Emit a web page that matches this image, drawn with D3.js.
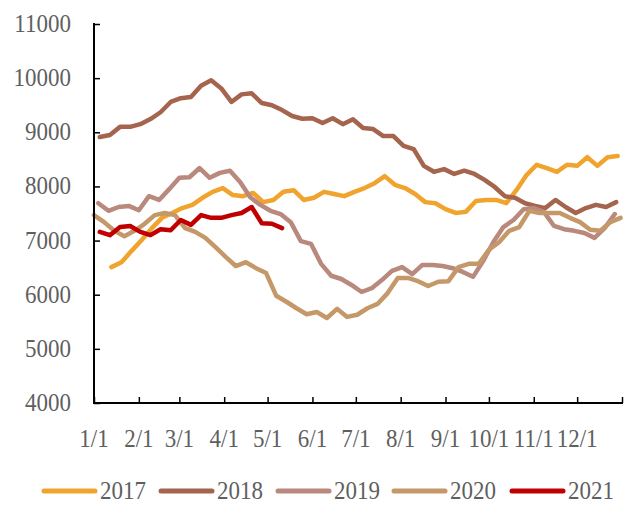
<!DOCTYPE html>
<html><head><meta charset="utf-8">
<script src="https://cdn.jsdelivr.net/npm/d3@7"></script>
<style>body{margin:0;background:#fff}svg{display:block}</style>
</head><body>
<svg id="c" width="625" height="505"></svg>
<script>
const years = ["2017","2018","2019","2020","2021"];
const colors = ["#F0A42E","#A5644D","#B8897C","#C59869","#C00000"];
const startDates = ["2021-01-13","2021-01-05","2021-01-04","2021-01-01","2021-01-05"];
const monthLabels = ["1/1","2/1","3/1","4/1","5/1","6/1","7/1","8/1","9/1","10/1","11/1","12/1"];
const yTicks = [4000,5000,6000,7000,8000,9000,10000,11000];

const s2017 = [6510,6600,6810,7010,7230,7420,7510,7600,7660,7790,7900,7970,7840,7820,7880,7710,7750,7900,7930,7750,7790,7900,7860,7820,7900,7970,8060,8190,8030,7970,7860,7710,7690,7580,7510,7530,7730,7750,7750,7690,7930,8210,8400,8340,8270,8400,8380,8540,8380,8540,8560];
const s2018 = [8913,8950,9100,9100,9150,9245,9370,9560,9630,9650,9860,9960,9810,9560,9700,9720,9540,9500,9410,9300,9250,9260,9170,9260,9150,9240,9080,9060,8930,8930,8750,8690,8380,8270,8320,8230,8290,8230,8120,7990,7820,7790,7690,7640,7600,7750,7620,7510,7600,7660,7620,7710];
const s2019 = [7690,7550,7620,7640,7560,7820,7750,7950,8160,8170,8340,8160,8250,8290,8080,7800,7660,7550,7490,7340,6990,6940,6570,6350,6290,6180,6050,6120,6270,6440,6510,6380,6550,6550,6530,6490,6420,6330,6620,6970,7250,7380,7580,7600,7530,7270,7210,7180,7140,7050,7230,7490];
const s2020 = [7470,7340,7180,7080,7180,7310,7470,7510,7470,7230,7160,7050,6880,6700,6530,6600,6490,6400,5980,5870,5750,5640,5680,5570,5740,5590,5630,5750,5830,6030,6310,6310,6250,6160,6240,6250,6510,6570,6570,6830,6970,7180,7250,7550,7510,7510,7510,7420,7340,7200,7180,7340,7420];
const s2021 = [7160,7100,7250,7270,7160,7100,7210,7190,7380,7290,7470,7420,7420,7470,7510,7620,7320,7310,7230];
const seriesValues = [s2017,s2018,s2019,s2020,s2021];

const svg = d3.select("#c");
const parse = d3.timeParse("%Y-%m-%d");
const x = d3.scaleTime().domain([parse("2021-01-01"), parse("2022-01-01")]).range([94, 622]);
const y = d3.scaleLinear().domain([4000, 11000]).range([403, 24]);
const font = "'Liberation Serif','Times New Roman',serif";
const txt = "#5f5f5f";
const fs = 25, sx = 0.92;

// lines
const line = d3.line().x(d => x(d.date)).y(d => y(d.v)).curve(d3.curveLinear);
seriesValues.forEach((vals, k) => {
  const st = parse(startDates[k]);
  const pts = vals.map((v, i) => ({date: d3.timeDay.offset(st, 7 * i), v}));
  svg.append("path").datum(pts).attr("d", line)
    .attr("fill", "none").attr("stroke", colors[k]).attr("stroke-width", 4.5)
    .attr("stroke-linejoin", "round").attr("stroke-linecap", "round");
});

// y axis
const yAxis = d3.axisRight(y).tickValues(yTicks).tickSize(6).tickFormat("");
const gy = svg.append("g").attr("transform", "translate(94,0)").call(yAxis);
gy.select(".domain").attr("stroke", "#000").attr("stroke-width", 2).attr("d", "M0,23V404");
gy.selectAll(".tick line").attr("stroke", "#000").attr("stroke-width", 1.5);
svg.append("g").selectAll("text").data(yTicks).join("text")
  .attr("transform", d => `translate(71,${y(d) + 8}) scale(${sx},1)`)
  .attr("text-anchor", "end").attr("font-family", font).attr("font-size", fs)
  .attr("fill", txt).text(d => d);

// x axis
const monthStarts = d3.timeMonth.range(parse("2021-01-01"), parse("2022-01-02"));
const xAxis = d3.axisTop(x).tickValues(monthStarts).tickSize(6).tickFormat("");
const gx = svg.append("g").attr("transform", "translate(0,403)").call(xAxis);
gx.select(".domain").attr("stroke", "#000").attr("stroke-width", 2).attr("d", "M93,0H623");
gx.selectAll(".tick line").attr("stroke", "#000").attr("stroke-width", 1.5);
svg.append("g").selectAll("text").data(monthLabels).join("text")
  .attr("transform", (d, i) => `translate(${x(monthStarts[i])},447) scale(${sx},1)`)
  .attr("text-anchor", "middle").attr("font-family", font).attr("font-size", fs)
  .attr("fill", txt).text(d => d);

// legend
const legX = [42, 159, 276, 392, 510];
const leg = svg.append("g");
years.forEach((yr, k) => {
  leg.append("line").attr("x1", legX[k] + 2).attr("x2", legX[k] + 53)
    .attr("y1", 491).attr("y2", 491).attr("stroke", colors[k])
    .attr("stroke-width", 5).attr("stroke-linecap", "round");
  leg.append("text").attr("transform", `translate(${legX[k] + 58},499) scale(${sx},1)`)
    .attr("font-family", font).attr("font-size", fs).attr("fill", txt).text(yr);
});
</script>
</body></html>
